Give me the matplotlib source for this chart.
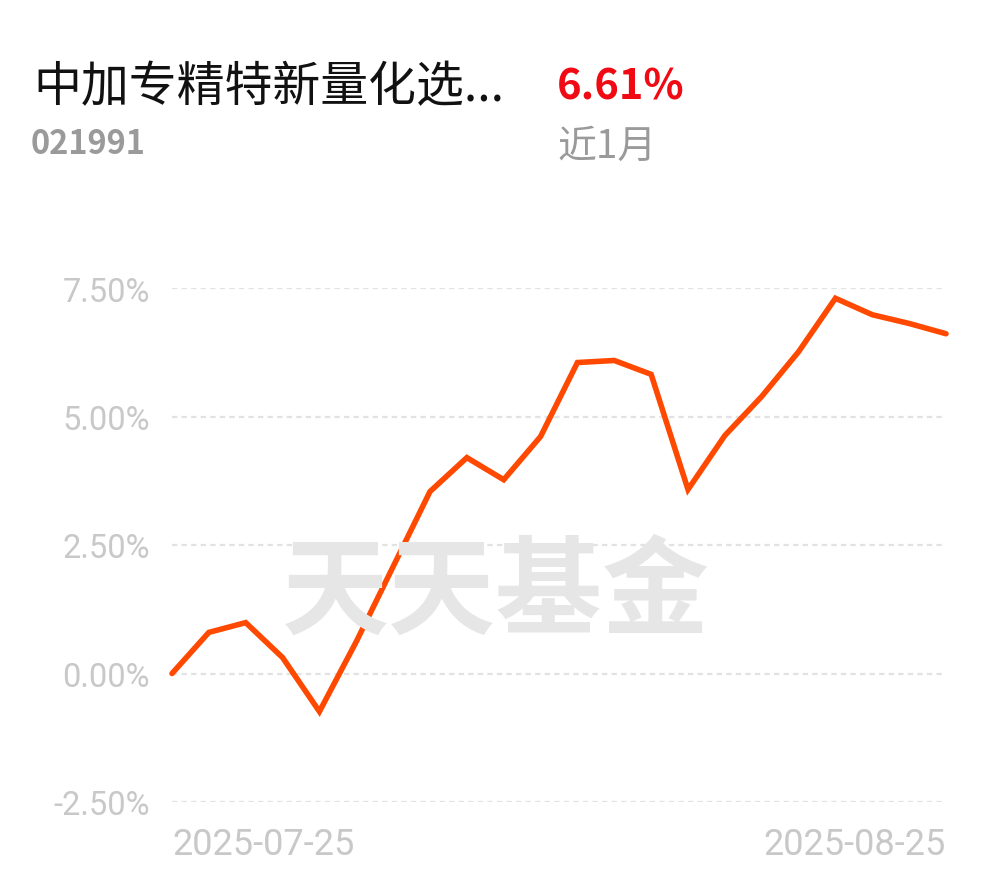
import numpy as np
import matplotlib.pyplot as plt

plt.rcParams['font.family'] = ['Noto Sans CJK SC', 'DejaVu Sans']

fund_name = '中加专精特新量化选...'
fund_code = '021991'
period_label = '近1月'
period_return = '6.61%'

dates = ['2025-07-25', '2025-07-28', '2025-07-29', '2025-07-30', '2025-07-31',
         '2025-08-01', '2025-08-04', '2025-08-05', '2025-08-06', '2025-08-07',
         '2025-08-08', '2025-08-11', '2025-08-12', '2025-08-13', '2025-08-14',
         '2025-08-15', '2025-08-18', '2025-08-19', '2025-08-20', '2025-08-21',
         '2025-08-22', '2025-08-25']
returns = [0.00, 0.80, 0.99, 0.31, -0.74, 0.62, 2.08, 3.54, 4.20, 3.77, 4.61,
           6.05, 6.09, 5.82, 3.58, 4.63, 5.39, 6.26, 7.30, 6.98, 6.81, 6.61]
y_ticks = [-2.5, 0.0, 2.5, 5.0, 7.5]

W, H = 990, 878
fig = plt.figure(figsize=(W / 100, H / 100), dpi=100)
fig.patch.set_facecolor('white')

ax = fig.add_axes([172 / W, (H - 803) / H, (946 - 172) / W, (803 - 289) / H])

# 水印
fig.text(496 / W, 1 - 594 / H, '天天基金', fontsize=77, fontweight='bold',
         color='#e6e6e6', ha='center', va='center', zorder=0)
ax.set_facecolor('none')

x = np.arange(len(returns))
for t in y_ticks:
    ax.axhline(t, color='#e2e2e2', lw=1.6, linestyle=(0, (2.4, 1.9)), zorder=1)

ax.plot(x, returns, color='#FF4800', lw=4.0, solid_joinstyle='miter',
        solid_capstyle='round', clip_on=False, zorder=3)

ax.set_xlim(0, len(returns) - 1)
ax.set_ylim(-2.5, 7.5)
ax.set_yticks(y_ticks)
ax.set_yticklabels([f'{t:.2f}%' for t in y_ticks], family='Roboto',
                   fontsize=23.5, color='#c8c8c8')
ax.set_xticks([0, len(returns) - 1])
xl = ax.set_xticklabels([dates[0], dates[-1]], family='Roboto',
                        fontsize=26, color='#c8c8c8')
xl[0].set_ha('left')
xl[1].set_ha('right')
ax.tick_params(axis='y', length=0, pad=16)
ax.tick_params(axis='x', length=0, pad=17)
for s in ax.spines.values():
    s.set_visible(False)

# 标题区
fig.text(33 / W, 1 - 87 / H, fund_name, fontsize=34.5, color='#111111',
         ha='left', va='center')
fig.text(557 / W, 1 - 87 / H, period_return, fontsize=30, fontweight='bold',
         color='#F00A14', ha='left', va='center')
fig.text(31 / W, 1 - 145 / H, fund_code, fontsize=23.5, fontweight='bold',
         color='#9a9a9a', ha='left', va='center')
fig.text(557 / W, 1 - 147 / H, period_label, fontsize=28, color='#9a9a9a',
         ha='left', va='center')

fig.savefig('out.png', dpi=100)
